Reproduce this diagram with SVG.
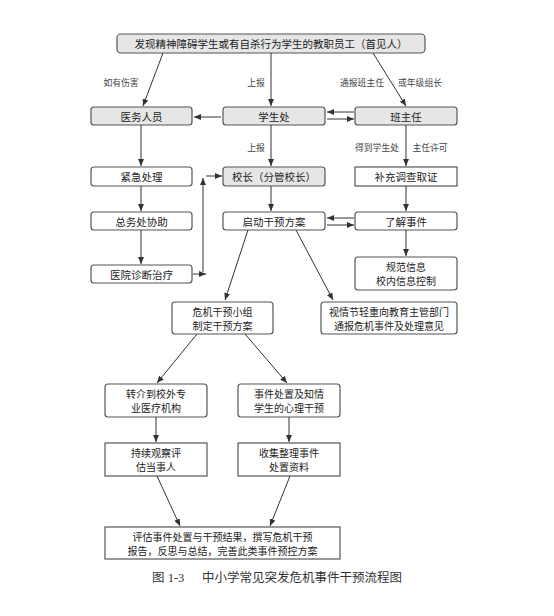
<svg xmlns="http://www.w3.org/2000/svg" width="554" height="616" viewBox="0 0 554 616">
<style>
  .bx{fill:#fff;stroke:#555;stroke-width:1.2}
  .g{fill:#e6e6e6}
  .t{font-family:"Noto Sans CJK SC","Noto Sans",sans-serif;font-size:10.5px;fill:#222;text-anchor:middle;dominant-baseline:central}
  .t2{font-size:10px}
  .lb{font-family:"Noto Sans CJK SC",sans-serif;font-size:8.8px;fill:#444;text-anchor:middle;dominant-baseline:central}
  .cap{font-family:"Liberation Serif","Noto Sans CJK SC",serif;font-size:12.5px;fill:#333;dominant-baseline:central}
  .c line{stroke:#333;stroke-width:1;marker-end:url(#ah)}
</style>
<defs>
  <marker id="ah" markerUnits="userSpaceOnUse" markerWidth="7" markerHeight="6" refX="7" refY="3" orient="auto">
    <path d="M0,0 L7,3 L0,6 z" fill="#333"/>
  </marker>
</defs>
<rect width="554" height="616" fill="#fff"/>

<g id="n_top"><rect class="bx g" x="117" y="34" width="308" height="19" rx="4"/><text class="t" x="271" y="43.5">发现精神障碍学生或有自杀行为学生的教职员工（首见人）</text></g>
<g id="n_medical"><rect class="bx g" x="91" y="107" width="101" height="18" rx="3"/><text class="t" x="141.5" y="116">医务人员</text></g>
<g id="n_student"><rect class="bx g" x="223" y="107" width="102" height="18" rx="3"/><text class="t" x="274" y="116">学生处</text></g>
<g id="n_teacher"><rect class="bx g" x="355" y="107" width="102" height="18" rx="3"/><text class="t" x="406" y="116">班主任</text></g>

<g id="n_emerg"><rect class="bx" x="91" y="167" width="101" height="19" rx="3"/><text class="t" x="141.5" y="176.5">紧急处理</text></g>
<g id="n_principal"><rect class="bx g" x="223" y="167" width="102" height="19" rx="3"/><text class="t" x="274" y="176.5">校长（分管校长）</text></g>
<g id="n_invest"><rect class="bx" x="355" y="167" width="102" height="19"/><text class="t" x="406" y="176.5">补充调查取证</text></g>

<g id="n_general"><rect class="bx" x="91" y="212" width="101" height="18" rx="3"/><text class="t" x="141.5" y="221">总务处协助</text></g>
<g id="n_start"><rect class="bx" x="223" y="212" width="102" height="18" rx="3"/><text class="t" x="274" y="221">启动干预方案</text></g>
<g id="n_learn"><rect class="bx" x="355" y="212" width="102" height="18" rx="3"/><text class="t" x="406" y="221">了解事件</text></g>

<g id="n_hospital"><rect class="bx" x="91" y="265" width="101" height="18" rx="3"/><text class="t" x="141.5" y="274">医院诊断治疗</text></g>
<g id="n_info"><rect class="bx" x="355" y="257" width="102" height="33" rx="3"/><text class="t t2" x="406" y="266.5">规范信息</text><text class="t t2" x="406" y="280.5">校内信息控制</text></g>

<g id="n_team"><rect class="bx" x="172" y="302" width="101" height="32" rx="3"/><text class="t t2" x="222.5" y="311">危机干预小组</text><text class="t t2" x="222.5" y="325">制定干预方案</text></g>
<g id="n_report"><rect class="bx" x="321" y="302" width="136" height="32" rx="3"/><text class="t t2" x="389" y="311">视情节轻重向教育主管部门</text><text class="t t2" x="389" y="325">通报危机事件及处理意见</text></g>

<g id="n_refer"><rect class="bx" x="105" y="384" width="102" height="33" rx="3"/><text class="t t2" x="156" y="393.5">转介到校外专</text><text class="t t2" x="156" y="407.5">业医疗机构</text></g>
<g id="n_handle"><rect class="bx" x="238" y="384" width="102" height="33" rx="3"/><text class="t t2" x="289" y="393.5">事件处置及知情</text><text class="t t2" x="289" y="407.5">学生的心理干预</text></g>

<g id="n_observe"><rect class="bx" x="105" y="443" width="102" height="33"/><text class="t t2" x="156" y="452.5">持续观察评</text><text class="t t2" x="156" y="466.5">估当事人</text></g>
<g id="n_collect"><rect class="bx" x="238" y="443" width="102" height="33"/><text class="t t2" x="289" y="452.5">收集整理事件</text><text class="t t2" x="289" y="466.5">处置资料</text></g>

<g id="n_final"><rect class="bx" x="105" y="527" width="235" height="32"/><text class="t t2" x="222.5" y="536">评估事件处置与干预结果，撰写危机干预</text><text class="t t2" x="222.5" y="550">报告，反思与总结，完善此类事件预控方案</text></g>

<g id="connectors" class="c">
  <line x1="163" y1="53" x2="143" y2="106"/>
  <line x1="271" y1="53" x2="271" y2="106"/>
  <line x1="373" y1="53" x2="406" y2="106"/>
  <line x1="221" y1="117" x2="194" y2="117"/>
  <line x1="354" y1="112" x2="327" y2="112"/>
  <line x1="327" y1="119" x2="354" y2="119"/>
  <line x1="141" y1="125" x2="141" y2="166"/>
  <line x1="271" y1="125" x2="271" y2="166"/>
  <line x1="406" y1="125" x2="406" y2="166"/>
  <line x1="141" y1="186" x2="141" y2="211"/>
  <line x1="271" y1="186" x2="271" y2="211"/>
  <line x1="406" y1="186" x2="406" y2="211"/>
  <line x1="354" y1="218" x2="327" y2="218"/>
  <line x1="327" y1="225" x2="354" y2="225"/>
  <line x1="141" y1="230" x2="141" y2="264"/>
  <line x1="406" y1="230" x2="406" y2="256"/>
  <line x1="193" y1="274" x2="206" y2="274"/>
  <line x1="203" y1="272" x2="203" y2="178"/>
  <line x1="206" y1="176" x2="222" y2="176"/>
  <line x1="248" y1="230" x2="225" y2="300"/>
  <line x1="296" y1="230" x2="333" y2="300"/>
  <line x1="197" y1="334" x2="157" y2="383"/>
  <line x1="245" y1="334" x2="287" y2="383"/>
  <line x1="156" y1="417" x2="156" y2="442"/>
  <line x1="289" y1="417" x2="289" y2="442"/>
  <line x1="157" y1="476" x2="180" y2="526"/>
  <line x1="290" y1="476" x2="270" y2="526"/>
</g>

<g id="labels">
  <text class="lb" x="121" y="82">如有伤害</text>
  <text class="lb" x="256" y="82">上报</text>
  <text class="lb" x="362" y="82">通报班主任</text>
  <text class="lb" x="420" y="82">或年级组长</text>
  <text class="lb" x="256" y="147">上报</text>
  <text class="lb" x="377" y="147">得到学生处</text>
  <text class="lb" x="430" y="147">主任许可</text>
</g>

<g id="caption">
  <text class="cap" x="152" y="578">图 1-3</text>
  <text class="cap" x="202" y="578">中小学常见突发危机事件干预流程图</text>
</g>
</svg>
